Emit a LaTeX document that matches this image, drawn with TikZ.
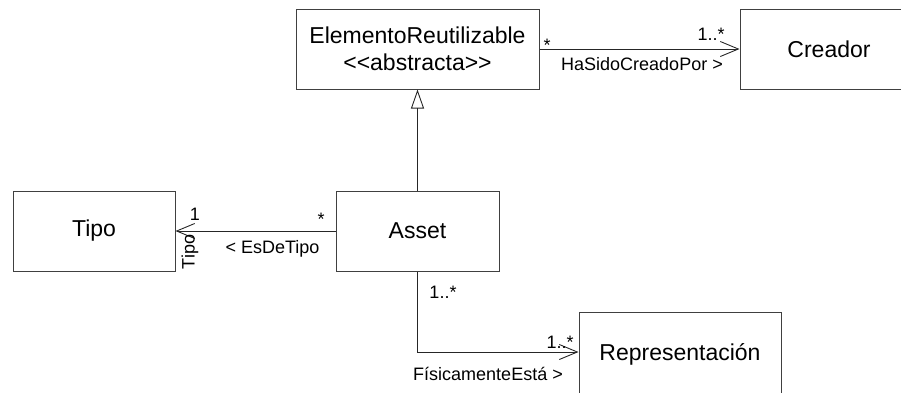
\documentclass[tikz,border=0pt]{standalone}
\usepackage{fontspec}
\setmainfont{Liberation Sans}
\usetikzlibrary{arrows.meta}

\begin{document}
\begin{tikzpicture}[x=1pt, y=-1pt,
    box/.style={draw=black!75, line width=1pt, fill=white, inner sep=0pt,
        align=center, font=\fontsize{23}{27}\selectfont},
    lbl/.style={inner sep=0pt, anchor=base, font=\fontsize{18}{21}\selectfont},
    assoc/.style={draw=black!85, line width=0.9pt,
        -{Straight Barb[length=18pt, width=15pt]}},
    gen/.style={draw=black!85, line width=0.9pt,
        -{Triangle[open, length=19pt, width=13pt]}}]
            % Frame
            \useasboundingbox (0,0) rectangle (901,392);
            \clip (0,0) rectangle (901,392);

            % Classes
            \node[box, minimum width=243pt, minimum height=80pt] (elemento) at (417.5,49)
                {ElementoReutilizable\\<\kern0pt<abstracta>\kern0pt>};
            \node[box, minimum width=178pt, minimum height=80pt] (creador) at (829,49) {Creador};
            \node[box, minimum width=162pt, minimum height=80pt] (tipo) at (94,231) {Tipo};
            \node[box, minimum width=163pt, minimum height=80pt] (asset) at (417.5,231) {Asset};
            \node[box, minimum width=202pt, minimum height=84pt] (repres) at (680,354) {Representación};

            % Connectors
            \draw[gen] (asset.north) -- (elemento.south);
            \draw[assoc] (elemento.east) -- (creador.west);
            \draw[assoc] (asset.west) -- (tipo.east);
            \draw[assoc] (asset.south) |- ([yshift=2pt]repres.west);

            % Labels
            \node[lbl] (multElem) at (547,51) {*};
            \node[lbl] (multCreador) at (711,40) {1..*};
            \node[lbl] (hasido) at (642,70) {HaSidoCreadoPor >};

            \node[lbl] (multTipo) at (195,220) {1};
            \node[lbl] (multAsset) at (321,225) {*};
            \node[lbl] (esde) at (272.5,253) {< EsDeTipo};
            \node[inner sep=0pt, rotate=90, font=\fontsize{18}{21}\selectfont] (rolTipo) at (190,252) {Tipo};

            \node[lbl] (multAssetRep) at (443,298) {1..*};
            \node[lbl] (multRep) at (560,348) {1..*};
            \node[lbl] (fisic) at (488,380) {FísicamenteEstá >};
        \end{tikzpicture}
\end{document}
